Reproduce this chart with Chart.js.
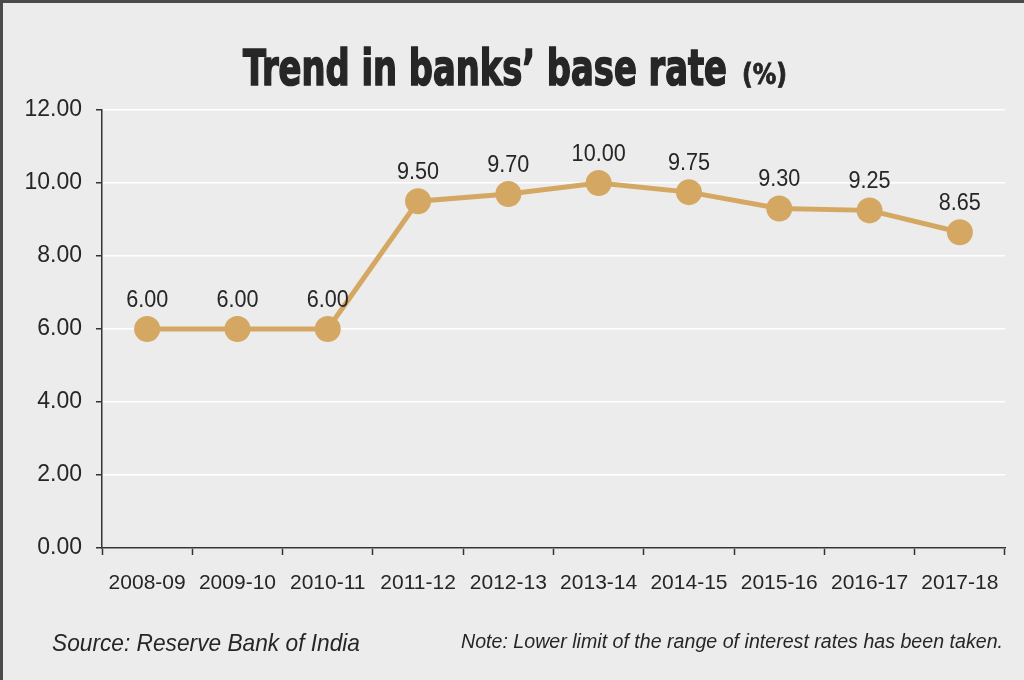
<!DOCTYPE html>
<html lang="en">
<head>
<meta charset="UTF-8">
<title>Trend in banks' base rate</title>
<script src="https://cdn.jsdelivr.net/npm/chart.js@4.4.1/dist/chart.umd.min.js"></script>
<style>
    html, body { margin: 0; padding: 0; background: #ececec; }
    .frame {
        position: relative;
        width: 1024px;
        height: 680px;
        box-sizing: border-box;
        border-left: 3px solid #4a4a4a;
        border-top: 3px solid #4a4a4a;
        background: #ececec;
        overflow: hidden;
    }
    #rateChart { position: absolute; left: -3px; top: -3px; }
</style>
</head>
<body>
<div class="frame">
    <canvas id="rateChart" width="1024" height="680"></canvas>
</div>
<script>
// --- data ---
const years = ['2008-09', '2009-10', '2010-11', '2011-12', '2012-13',
               '2013-14', '2014-15', '2015-16', '2016-17', '2017-18'];
const baseRate = [6.00, 6.00, 6.00, 9.50, 9.70, 10.00, 9.75, 9.30, 9.25, 8.65];
const yTicks = [0, 2, 4, 6, 8, 10, 12];

const titleMain = 'Trend in banks\u2019 base rate';
const titleUnit = '(%)';
const sourceText = 'Source: Reserve Bank of India';
const noteText = 'Note: Lower limit of the range of interest rates has been taken.';

const gold = '#d4a862';
const ink = '#262626';
const sans = "'Liberation Sans', Arial, sans-serif";
const heavy = "'DejaVu Sans Condensed', 'DejaVu Sans', sans-serif";

// draw a string squeezed horizontally to a given width
function fitText(ctx, text, x, y, width, align, stroke) {
    ctx.save();
    ctx.textAlign = 'left';
    const w = ctx.measureText(text).width;
    const left = align === 'right' ? x - width : align === 'center' ? x - width / 2 : x;
    ctx.translate(left, y);
    ctx.scale(width / w, 1);
    ctx.fillText(text, 0, 0);
    if (stroke) {
        ctx.lineWidth = stroke;
        ctx.strokeStyle = ctx.fillStyle;
        ctx.strokeText(text, 0, 0);
    }
    ctx.restore();
}

// titles, value labels and footnotes drawn on the canvas
const textPlugin = {
    id: 'texts',
    afterDatasetsDraw(chart) {
        const ctx = chart.ctx;
        ctx.save();
        ctx.fillStyle = ink;

        // value labels over each point
        const meta = chart.getDatasetMeta(0);
        ctx.font = '24px ' + sans;
        ctx.textBaseline = 'middle';
        meta.data.forEach((pt, i) => {
            const s = baseRate[i].toFixed(2);
            const w = ctx.measureText(s).width * 0.9;
            fitText(ctx, s, pt.x, pt.y - 29, w, 'center');
        });

        // title
        ctx.textBaseline = 'alphabetic';
        ctx.font = 'bold 50px ' + heavy;
        fitText(ctx, titleMain, 243, 85, 484, 'left', 1.6);
        ctx.font = 'bold 29px ' + heavy;
        fitText(ctx, titleUnit, 742, 84, 45, 'left', 0.8);

        // footnotes
        ctx.font = 'italic 24px ' + sans;
        fitText(ctx, sourceText, 52, 651, 308, 'left');
        ctx.font = 'italic 20px ' + sans;
        fitText(ctx, noteText, 1003, 648, 542, 'right');
        ctx.restore();
    }
};

new Chart(document.getElementById('rateChart'), {
    type: 'line',
    data: {
        labels: years,
        datasets: [{
            data: baseRate,
            borderColor: gold,
            borderWidth: 5,
            backgroundColor: gold,
            pointBackgroundColor: gold,
            pointBorderWidth: 0,
            pointRadius: 13,
            tension: 0
        }]
    },
    options: {
        responsive: false,
        animation: false,
        devicePixelRatio: 1,
        layout: { padding: { left: 0, top: 110, right: 19, bottom: 72 } },
        plugins: {
            legend: { display: false },
            tooltip: { enabled: false }
        },
        scales: {
            x: {
                offset: true,
                grid: {
                    offset: true,
                    drawOnChartArea: false,
                    tickLength: 7,
                    tickColor: '#333',
                    tickWidth: 1.5
                },
                border: { color: '#333', width: 1.5 },
                ticks: {
                    color: ink,
                    padding: 16,
                    maxRotation: 0,
                    autoSkip: false,
                    font: { family: sans, size: 21 }
                },
                afterFit(s) { s.height = 60; }
            },
            y: {
                min: 0,
                max: 12,
                afterBuildTicks(s) { s.ticks = yTicks.map(v => ({ value: v })); },
                grid: {
                    color: '#ffffff',
                    lineWidth: 1.5,
                    tickLength: 6,
                    tickColor: '#333',
                    tickWidth: 1.5
                },
                border: { color: '#333', width: 1.5 },
                ticks: {
                    color: ink,
                    padding: 14,
                    font: { family: sans, size: 23 },
                    callback: v => Number(v).toFixed(2)
                },
                afterFit(s) { s.width = 102; }
            }
        }
    },
    plugins: [textPlugin]
});
</script>
</body>
</html>
